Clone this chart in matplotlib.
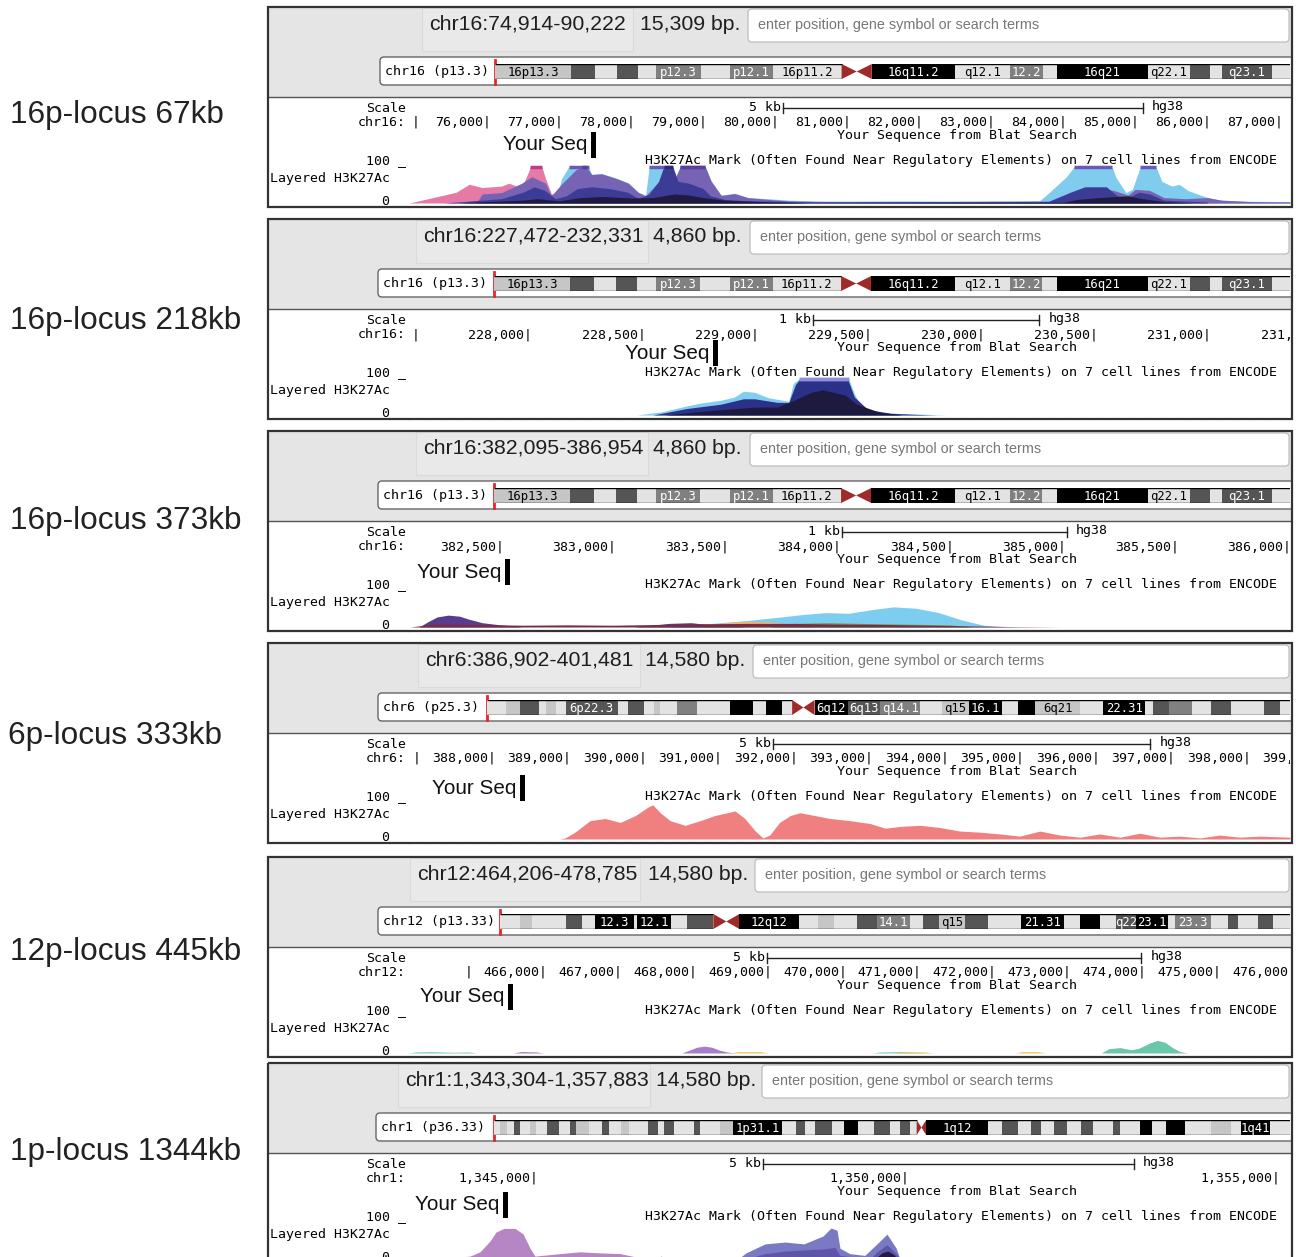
import numpy as np
import matplotlib
matplotlib.use("Agg")
import matplotlib.pyplot as plt
from matplotlib.patches import Rectangle, FancyBboxPatch
from matplotlib.transforms import offset_copy

# ---------------- data ----------------
locus_labels = ["16p-locus 67kb", "16p-locus 218kb", "16p-locus 373kb",
                "6p-locus 333kb", "12p-locus 445kb", "1p-locus 1344kb"]
position_texts = ["chr16:74,914-90,222", "chr16:227,472-232,331", "chr16:382,095-386,954",
                  "chr6:386,902-401,481", "chr12:464,206-478,785", "chr1:1,343,304-1,357,883"]
size_texts = ["15,309 bp.", "4,860 bp.", "4,860 bp.", "14,580 bp.", "14,580 bp.", "14,580 bp."]
ideo_names = ["chr16 (p13.3)", "chr16 (p13.3)", "chr16 (p13.3)",
              "chr6 (p25.3)", "chr12 (p13.33)", "chr1 (p36.33)"]
chrom_labels = ["chr16:", "chr16:", "chr16:", "chr6:", "chr12:", "chr1:"]
view_start = [74914, 227472, 382095, 386902, 464206, 1343304]
view_end = [87150, 231365, 386012, 398571, 475970, 1355177]
tick_step = [1000, 500, 500, 1000, 1000, 5000]
scale_len = [5000, 1000, 1000, 5000, 5000, 5000]
scale_names = ["5 kb", "1 kb", "1 kb", "5 kb", "5 kb", "5 kb"]
scale_start = [80108, 229257, 384021, 391723, 468986, 1348075]
blat_hit = [77477, 228826, 382532, 388405, 465561, 1344605]

# cytobands: (end in per-mille of visible ideogram, stain, label)
chr16_bands = [(96, "l", "16p13.3"), (126, "d", ""), (153, "n", ""), (180, "d", ""),
               (203, "n", ""), (259, "g", "p12.3"), (296, "n", ""), (350, "g", "p12.1"),
               (436, "n", "16p11.2"), (474, "c", ""), (579, "b", "16q11.2"),
               (648, "n", "q12.1"), (689, "g", "12.2"), (707, "n", ""), (821, "b", "16q21"),
               (874, "n", "q22.1"), (899, "d", ""), (914, "n", ""), (977, "d", "q23.1"),
               (1000, "n", "")]
chr6_bands = [(24, "n", ""), (41, "l", ""), (65, "d", ""), (73, "n", ""), (86, "l", ""),
              (98, "n", ""), (163, "d", "6p22.3"), (176, "n", ""), (196, "d", ""),
              (208, "n", ""), (216, "l", ""), (237, "n", ""), (261, "g", ""), (302, "n", ""),
              (331, "b", ""), (347, "n", ""), (367, "b", ""), (380, "n", ""), (408, "c", ""),
              (449, "b", "6q12"), (490, "d", "6q13"), (539, "g", "q14.1"), (567, "n", ""),
              (600, "l", "q15"), (641, "b", "16.1"), (661, "n", ""), (682, "b", ""),
              (739, "l", "6q21"), (767, "n", ""), (820, "b", "22.31"), (829, "n", ""),
              (849, "d", ""), (878, "g", ""), (902, "n", ""), (927, "d", ""), (967, "n", ""),
              (988, "d", ""), (1000, "n", "")]
chr12_bands = [(25, "n", ""), (41, "l", ""), (83, "n", ""), (104, "d", ""), (120, "n", ""),
               (170, "b", "12.3"), (174, "n", ""), (216, "b", "12.1"), (237, "n", ""),
               (270, "d", ""), (303, "c", ""), (378, "b", "12q12"), (402, "n", ""),
               (423, "l", ""), (452, "n", ""), (477, "d", ""), (519, "g", "14.1"),
               (535, "n", ""), (556, "d", ""), (589, "l", "q15"), (618, "d", ""),
               (660, "n", ""), (714, "b", "21.31"), (734, "n", ""), (759, "b", ""),
               (780, "n", ""), (805, "d", "q22"), (846, "b", "23.1"), (855, "n", ""),
               (900, "g", "23.3"), (921, "n", ""), (934, "d", ""), (959, "n", ""),
               (979, "d", ""), (1000, "n", "")]
chr1_bands = [(8, "n", ""), (16, "l", ""), (25, "n", ""), (33, "d", ""), (45, "n", ""),
              (53, "l", ""), (66, "n", ""), (82, "d", ""), (95, "n", ""), (103, "d", ""),
              (119, "l", ""), (136, "n", ""), (144, "d", ""), (160, "n", ""), (169, "l", ""),
              (193, "n", ""), (206, "d", ""), (214, "n", ""), (226, "d", ""), (251, "n", ""),
              (259, "d", ""), (284, "n", ""), (300, "l", ""), (362, "b", "1p31.1"),
              (379, "n", ""), (391, "d", ""), (403, "n", ""), (424, "d", ""), (440, "n", ""),
              (457, "b", ""), (477, "n", ""), (498, "d", ""), (510, "n", ""), (523, "d", ""),
              (531, "n", ""), (543, "c", ""), (621, "b", "1q12"), (638, "n", ""),
              (658, "d", ""), (675, "n", ""), (687, "d", ""), (704, "n", ""), (720, "d", ""),
              (737, "n", ""), (753, "d", ""), (778, "n", ""), (786, "d", ""), (811, "n", ""),
              (827, "b", ""), (844, "n", ""), (868, "b", ""), (901, "n", ""), (926, "l", ""),
              (938, "n", ""), (975, "b", "1q41"), (1000, "n", "")]

# H3K27Ac signal (x in kb, value 0-100, clipped at 100)
p1_pink_x = [74.91, 74.96, 75.29, 75.57, 75.75, 75.93, 76.20, 76.30, 76.48, 76.58, 76.60, 76.76,
             76.81, 76.89, 76.99, 77.10, 77.50, 78.00, 78.50, 79.00, 79.50, 80.00, 81.00, 82.00,
             83.00, 84.00, 84.90, 85.00, 85.10, 86.00, 87.15]
p1_pink_v = [0, 2, 17, 30, 52, 43, 47, 55, 42, 90, 100, 100, 68, 26, 21, 15, 10, 8, 8, 8, 10, 6,
             4, 4, 5, 4, 20, 30, 15, 4, 3]
p1_blue_x = [76.95, 77.03, 77.13, 77.41, 77.45, 77.59, 77.78, 77.96, 78.10, 78.20, 78.25, 78.56,
             78.61, 78.68, 79.03, 79.11, 79.25, 79.44, 79.62, 79.90, 80.18, 80.62, 81.73, 82.84,
             83.67, 83.76, 84.04, 84.15, 84.68, 84.73, 84.87, 84.96, 85.07, 85.29, 85.37, 85.51,
             85.61, 85.74, 85.98, 86.16, 86.53, 87.15]
p1_blue_v = [0, 66, 100, 100, 80, 82, 70, 56, 30, 22, 100, 100, 69, 100, 100, 62, 22, 27, 15, 12,
             8, 5, 6, 5, 6, 21, 72, 100, 100, 72, 29, 38, 100, 100, 60, 47, 52, 34, 17, 8, 5, 4]
p1_purple_x = [75.85, 75.93, 76.20, 76.48, 76.62, 76.81, 76.89, 77.03, 77.23, 77.31, 77.38, 77.45,
               77.59, 77.78, 77.96, 78.10, 78.20, 78.34, 78.42, 78.51, 78.61, 78.68, 79.03, 79.11,
               79.25, 79.44, 79.62, 79.90, 80.18, 80.60, 83.90, 84.10, 84.30, 84.50, 84.70, 84.90,
               85.00, 85.20, 85.40, 85.70, 86.00, 86.20, 86.60, 87.15]
p1_purple_v = [0, 25, 29, 55, 73, 55, 20, 52, 92, 100, 100, 79, 81, 69, 55, 29, 20, 50, 62, 75, 69,
               100, 100, 60, 21, 26, 15, 10, 6, 4, 4, 12, 30, 40, 35, 22, 38, 35, 15, 12, 15, 8, 4, 3]
p1_navy_x = [75.40, 75.80, 76.20, 76.50, 76.65, 76.80, 76.95, 77.10, 77.25, 77.45, 77.70, 77.95,
             78.10, 78.25, 78.38, 78.45, 78.58, 78.65, 78.80, 79.00, 79.10, 79.30, 79.60, 80.00,
             80.50, 83.80, 84.10, 84.30, 84.60, 84.75, 84.90, 85.05, 85.20, 85.40, 86.00]
p1_navy_v = [0, 6, 12, 30, 45, 35, 12, 20, 40, 45, 40, 30, 12, 25, 60, 100, 100, 60, 55, 40, 20,
             10, 6, 5, 3, 5, 30, 45, 45, 20, 15, 30, 25, 8, 3]
p1_dark_x = [75.6, 76.0, 76.5, 76.7, 77.0, 77.3, 77.6, 78.0, 78.3, 78.6, 78.8, 79.0, 79.3, 79.8,
             80.5, 84.0, 84.2, 84.5, 84.9, 85.1, 85.4, 85.8]
p1_dark_v = [0, 4, 8, 12, 6, 15, 18, 14, 15, 25, 22, 15, 8, 4, 0, 2, 10, 15, 20, 12, 4, 0]

p2_cyan_x = [228.48, 228.59, 228.69, 228.76, 228.85, 228.91, 228.95, 229.00, 229.06, 229.15,
             229.17, 229.195, 229.415, 229.44, 229.47, 229.53, 229.59, 229.65, 229.75, 229.85]
p2_cyan_v = [0, 9, 24, 33, 41, 50, 66, 63, 48, 38, 88, 100, 100, 59, 24, 9, 5, 4, 2, 0]
p2_navy_x = [228.55, 228.70, 228.85, 228.95, 229.00, 229.10, 229.15, 229.18, 229.20, 229.41,
             229.44, 229.50, 229.60, 229.70, 229.80]
p2_navy_v = [0, 18, 30, 45, 45, 35, 35, 85, 100, 100, 50, 15, 5, 2, 0]
p2_dark_x = [228.60, 228.80, 229.00, 229.10, 229.17, 229.25, 229.30, 229.40, 229.45, 229.55, 229.65]
p2_dark_v = [0, 12, 22, 22, 40, 63, 70, 55, 30, 8, 0]

p3_cyan_x = [383.25, 383.40, 383.60, 383.75, 383.85, 383.95, 384.05, 384.15, 384.25, 384.35,
             384.45, 384.55, 384.65, 384.75]
p3_cyan_v = [0, 8, 18, 28, 35, 40, 38, 48, 56, 52, 40, 20, 5, 0]
p3_orange_x = [383.40, 383.50, 383.60, 383.70, 383.80, 383.90]
p3_orange_v = [0, 12, 16, 14, 8, 0]
p3_green_x = [383.70, 383.80, 383.95, 384.10, 384.30, 384.50, 384.60]
p3_green_v = [0, 10, 12, 10, 8, 6, 0]
p3_purple_x = [382.14, 382.18, 382.22, 382.27, 382.32, 382.36, 382.42, 382.50, 382.60,
               383.10, 383.25, 383.35, 383.45, 383.60]
p3_purple_v = [0, 15, 28, 33, 30, 22, 12, 6, 0, 0, 10, 12, 5, 0]
p3_base_x = [382.10, 382.20, 382.40, 382.60, 382.80, 383.00, 383.20, 383.40, 383.60, 383.80,
             384.00, 384.20, 384.40, 384.60, 384.80, 385.00]
p3_base_v = [0, 8, 7, 5, 6, 5, 7, 9, 10, 10, 8, 7, 5, 3, 1, 0]

p4_salmon_x = [388.90, 388.97, 389.10, 389.30, 389.50, 389.70, 389.90, 390.07, 390.13, 390.23,
               390.36, 390.56, 390.76, 390.95, 391.22, 391.35, 391.48, 391.59, 391.68, 391.81,
               391.95, 392.08, 392.28, 392.48, 392.74, 393.01, 393.21, 393.41, 393.67, 393.93,
               394.20, 394.46, 394.73, 394.99, 395.26, 395.52, 395.79, 396.05, 396.32, 396.58,
               396.85, 397.11, 397.38, 397.64, 397.91, 398.17, 398.57]
p4_salmon_v = [0, 3, 19, 51, 57, 46, 65, 89, 95, 73, 51, 38, 51, 65, 78, 57, 24, 3, 11, 46, 65,
               73, 65, 57, 51, 43, 30, 35, 38, 32, 22, 19, 14, 8, 22, 11, 5, 14, 5, 16, 5, 8, 3,
               11, 5, 8, 5]

p5_green_x = [464.20, 464.30, 464.50, 464.80, 465.00, 465.10, 470.40, 470.50, 470.80, 471.00, 471.10]
p5_green_v = [0, 3, 4, 2, 3, 0, 0, 3, 4, 2, 0]
p5_orange_x = [468.50, 468.60, 468.90, 469.00, 470.70, 470.80, 471.10, 471.20, 472.30, 472.40,
               472.60, 472.70]
p5_orange_v = [0, 4, 4, 0, 0, 3, 3, 0, 0, 4, 4, 0]
p5_purple_x = [465.60, 465.70, 465.90, 466.00, 467.85, 467.95, 468.05, 468.15, 468.25, 468.35,
               468.45, 468.55]
p5_purple_v = [0, 4, 3, 0, 0, 8, 16, 19, 16, 8, 3, 0]
p5_teal_x = [473.45, 473.55, 473.70, 473.85, 473.95, 474.10, 474.20, 474.30, 474.40, 474.50, 474.60]
p5_teal_v = [0, 12, 15, 9, 13, 28, 35, 30, 15, 4, 0]

p6_mauve_x = [1343.857, 1343.964, 1344.126, 1344.261, 1344.396, 1344.477, 1344.584, 1344.733,
              1344.840, 1344.935, 1345.002, 1345.096, 1345.339, 1345.609, 1345.878, 1346.148,
              1346.309, 1346.417, 1346.687]
p6_mauve_v = [0, 5, 8, 20, 50, 75, 85, 85, 70, 30, 8, 10, 15, 20, 17, 15, 8, 3, 0]
p6_violet_x = [1346.60, 1346.70, 1346.80, 1347.738, 1347.846, 1348.102, 1348.371, 1348.627,
               1348.884, 1348.991, 1349.072, 1349.112, 1349.243, 1349.446, 1349.611, 1349.746,
               1349.867, 1349.921]
p6_violet_v = [0, 8, 0, 0, 17, 42, 47, 42, 64, 86, 80, 30, 15, 10, 42, 69, 31, 0]
p6_mid_x = [1347.846, 1348.102, 1348.371, 1348.627, 1348.884, 1349.045, 1349.112, 1349.517,
            1349.611, 1349.746, 1349.867, 1349.921]
p6_mid_v = [0, 15, 22, 25, 28, 32, 10, 0, 20, 40, 15, 0]
p6_dark_x = [1349.580, 1349.685, 1349.760, 1349.840, 1349.890]
p6_dark_v = [0, 18, 22, 12, 0]

# (fill colour, clip-line colour, x, v) back to front
signal_layers = [
    [("#e57aa6", "#b8408a", p1_pink_x, p1_pink_v), ("#80ccee", "#6a5ab8", p1_blue_x, p1_blue_v),
     ("#7763b3", "#5a3f9c", p1_purple_x, p1_purple_v), ("#3c3c96", "#2a2a78", p1_navy_x, p1_navy_v),
     ("#1f1a3f", "#1f1a3f", p1_dark_x, p1_dark_v)],
    [("#80cff0", "#8d8ddc", p2_cyan_x, p2_cyan_v), ("#2b3088", "#8d8ddc", p2_navy_x, p2_navy_v),
     ("#1c1a3e", "#1c1a3e", p2_dark_x, p2_dark_v)],
    [("#7ccdf0", "#7ccdf0", p3_cyan_x, p3_cyan_v), ("#f0b46a", "#f0b46a", p3_orange_x, p3_orange_v),
     ("#6e9a56", "#6e9a56", p3_green_x, p3_green_v), ("#5a3c8e", "#5a3c8e", p3_purple_x, p3_purple_v),
     ("#7a2c44", "#7a2c44", p3_base_x, p3_base_v)],
    [("#f07f7f", "#d02060", p4_salmon_x, p4_salmon_v)],
    [("#7fd0a8", "#7fd0a8", p5_green_x, p5_green_v), ("#f2c46c", "#f2c46c", p5_orange_x, p5_orange_v),
     ("#a77cc8", "#a77cc8", p5_purple_x, p5_purple_v), ("#6cc6aa", "#6cc6aa", p5_teal_x, p5_teal_v)],
    [("#b585c4", "#b585c4", p6_mauve_x, p6_mauve_v), ("#7a79c3", "#7a79c3", p6_violet_x, p6_violet_v),
     ("#5e55a8", "#5e55a8", p6_mid_x, p6_mid_v), ("#241a40", "#241a40", p6_dark_x, p6_dark_v)],
]
band_sets = [chr16_bands, chr16_bands, chr16_bands, chr6_bands, chr12_bands, chr1_bands]

# ---------------- layout ----------------
W, H = 1296, 1257
tops = [7, 219, 431, 643, 857, 1063]
label_x = [10, 10, 10, 8, 10, 10]
label_y = [115, 321, 521, 736, 952, 1152]
posbox = [(422, 633), (416, 648), (416, 648), (418, 640), (410, 640), (398, 650)]
size_x = [640, 653, 653, 645, 648, 656]
search_x = [748, 750, 750, 753, 755, 762]
ideo_frame_x = [380, 378, 378, 378, 378, 376]
red_x = [495, 494, 494, 487, 500, 494]
yourseq_dy = [138, 134, 141, 145, 140, 142]
X0, X1 = 409, 1290
PX_PER_UNIT = 0.36

stain_color = {"n": "#e3e3e3", "l": "#c6c6c6", "g": "#808080", "d": "#555555",
               "b": "#000000", "c": "#9e2a2a"}
mono = "DejaVu Sans Mono"
sans = "Liberation Sans"
FS = 9.5

fig = plt.figure(figsize=(W / 100, H / 100), dpi=100)
bg = fig.add_axes([0, 0, 1, 1])
bg.set_xlim(0, W)
bg.set_ylim(H, 0)
bg.axis("off")


def px_axes(x0, y0, x1, y1):
    return fig.add_axes([x0 / W, 1 - y1 / H, (x1 - x0) / W, (y1 - y0) / H])


def draw_ideogram(ax, bands):
    prev = 0
    cen = (0, 0)
    for end, stain, name in bands:
        if stain == "c":
            mid = (prev + end) / 2
            ax.fill([prev, mid, prev], [0, 0.5, 1], color=stain_color["c"], lw=0)
            ax.fill([end, mid, end], [0, 0.5, 1], color=stain_color["c"], lw=0)
            cen = (prev, end)
        else:
            ax.bar(prev, 1, width=end - prev, align="edge", color=stain_color[stain], lw=0)
            if name:
                tc = "black" if stain in ("n", "l") else "white"
                ax.text((prev + end) / 2, 0.45, name, color=tc, ha="center", va="center",
                        fontsize=8.8, family=mono)
        prev = end
    ax.hlines([0.02, 0.98, 0.02, 0.98], [0, 0, cen[1], cen[1]], [cen[0], cen[0], 1000, 1000],
              color="black", lw=1)
    ax.set_xlim(0, 1000)
    ax.set_ylim(0, 1)
    ax.axis("off")


for i in range(6):
    T = tops[i]
    bot = min(T + 200, H + 10)
    # left label
    bg.text(label_x[i], label_y[i], locus_labels[i], fontsize=22.7, family=sans,
            color="#222222", va="center", ha="left")
    # header
    bg.add_patch(Rectangle((268, T), 1024, 90, facecolor="#e5e5e5", edgecolor="none"))
    bg.add_patch(Rectangle((268, T + 90), 1024, bot - T - 90, facecolor="white", edgecolor="none"))
    pl, pr = posbox[i]
    bg.add_patch(Rectangle((pl, T + 1), pr - pl, 43, facecolor="#e9e9e9", edgecolor="#dadada", lw=0.8))
    bg.text(pl + 7, T + 17, position_texts[i], fontsize=15.3, family=sans, va="center", color="#1e1e1e")
    bg.text(size_x[i], T + 17, size_texts[i], fontsize=15.3, family=sans, va="center", color="#1e1e1e")
    sl = search_x[i]
    bg.add_patch(FancyBboxPatch((sl, T + 2), 1289 - sl, 33, boxstyle="round,pad=0,rounding_size=4",
                                facecolor="white", edgecolor="#b8b8b8", lw=0.8))
    bg.text(sl + 10, T + 18, "enter position, gene symbol or search terms", fontsize=10.4,
            family=sans, color="#777777", va="center")
    fx = ideo_frame_x[i]
    bg.add_patch(FancyBboxPatch((fx, T + 50), 1320 - fx, 28, boxstyle="round,pad=0,rounding_size=4",
                                facecolor="white", edgecolor="#666666", lw=1))
    bg.text(fx + 5, T + 64.5, ideo_names[i], fontsize=FS, family=mono, va="center", color="black")
    bg.plot([268, 1292], [T + 90, T + 90], color="#555555", lw=1)

    # track labels
    bg.text(406, T + 101.5, "Scale", fontsize=FS, family=mono, ha="right", va="center")
    bg.text(406, T + 115.5, chrom_labels[i], fontsize=FS, family=mono, ha="right", va="center")
    bg.text(406, T + 153.5, "100 _", fontsize=FS, family=mono, ha="right", va="center")
    bg.text(270, T + 171.5, "Layered H3K27Ac", fontsize=FS, family=mono, ha="left", va="center")
    bg.text(406, T + 193.5, "0 _", fontsize=FS, family=mono, ha="right", va="center")
    # guidelines
    for gx in np.arange(427.3, X1, 15.9):
        bg.plot([gx, gx], [T + 91, bot], color="#dadbf3", lw=1, zorder=0.5)
    bg.plot([X0, X0], [T + 91, bot], color="#f4a3a3", lw=1, zorder=0.6)
    bg.text(957, T + 128.5, "Your Sequence from Blat Search", fontsize=FS, family=mono,
            ha="center", va="center")
    bg.text(961, T + 153.5, "H3K27Ac Mark (Often Found Near Regulatory Elements) on 7 cell lines from ENCODE",
            fontsize=FS, family=mono, ha="center", va="center")

    # ideogram
    iax = px_axes(red_x[i], T + 57, 1290, T + 72)
    draw_ideogram(iax, band_sets[i])
    bg.plot([red_x[i], red_x[i]], [T + 53, T + 77], color="#e8262a", lw=2, zorder=5)

    # data track
    ax = px_axes(X0, T + 91, X1, T + 196)
    xs0, xs1 = view_start[i], view_end[i]
    tr = ax.get_xaxis_transform()

    def yf(ypx):
        return (T + 196 - ypx) / 105.0

    for color, clipc, xs, vs in signal_layers[i]:
        x = np.asarray(xs) * 1000
        v = np.asarray(vs, dtype=float)
        ax.fill_between(x, 0, np.minimum(v, 100), color=color, lw=0)
        ax.plot(x, np.where(v >= 100, 100.0, np.nan), color=clipc, lw=2.5, solid_capstyle="butt")

    # ruler ticks
    first = (xs0 // tick_step[i] + 1) * tick_step[i]
    tick_tr = offset_copy(tr, fig=fig, x=4, y=0, units="dots")
    span = X1 - X0
    for t in range(int(first), int(xs1) + tick_step[i] * 2, tick_step[i]):
        lab = f"{t:,}|"
        tpx = (t - xs0) / (xs1 - xs0) * span
        left = tpx - len(lab) * 7.9
        if left > span - 10:
            continue
        if left < 0:
            ax.text(t, yf(T + 115.5), "|", fontsize=FS, family=mono, ha="center", va="center",
                    transform=tr, clip_on=True)
        else:
            ax.text(t, yf(T + 115.5), lab, fontsize=FS, family=mono, ha="right", va="center",
                    transform=tick_tr, clip_on=True)

    # scale bar
    s0, s1 = scale_start[i], scale_start[i] + scale_len[i]
    ax.plot([s0, s1], [yf(T + 101)] * 2, color="#222222", lw=1, transform=tr)
    ax.plot([s0, s0], [yf(T + 96), yf(T + 106)], color="#222222", lw=1, transform=tr)
    ax.plot([s1, s1], [yf(T + 96), yf(T + 106)], color="#222222", lw=1, transform=tr)
    ax.text(s0, yf(T + 100.5), scale_names[i], fontsize=FS, family=mono, ha="right", va="center",
            transform=offset_copy(tr, fig=fig, x=-2, y=0, units="dots"))
    ax.text(s1, yf(T + 99.5), "hg38", fontsize=FS, family=mono, ha="left", va="center",
            transform=offset_copy(tr, fig=fig, x=9, y=0, units="dots"))

    # blat hit + "Your Seq"
    hw = 4.5 * (xs1 - xs0) / (X1 - X0)
    yc = T + yourseq_dy[i]
    ax.bar(blat_hit[i], yf(yc - 13) - yf(yc + 13), width=hw, bottom=yf(yc + 13),
           color="black", transform=tr)
    ax.text(blat_hit[i], yf(yc), "Your Seq", fontsize=14.9, family=sans, ha="right", va="center",
            color="#111111", transform=offset_copy(tr, fig=fig, x=-6, y=0, units="dots"),
            bbox=dict(facecolor="white", edgecolor="none", pad=1.5))

    ax.set_xlim(xs0, xs1)
    ax.set_ylim(0, 105 / PX_PER_UNIT)
    ax.axis("off")

# trim right side and draw panel borders
bg.add_patch(Rectangle((1292.5, 0), 10, H, facecolor="white", edgecolor="none", zorder=3))
for i in range(6):
    T = tops[i]
    bg.add_patch(Rectangle((268, T), 1024, 200, fill=False, edgecolor="#333333", lw=1.6, zorder=4))

fig.savefig("out.png", dpi=100)
